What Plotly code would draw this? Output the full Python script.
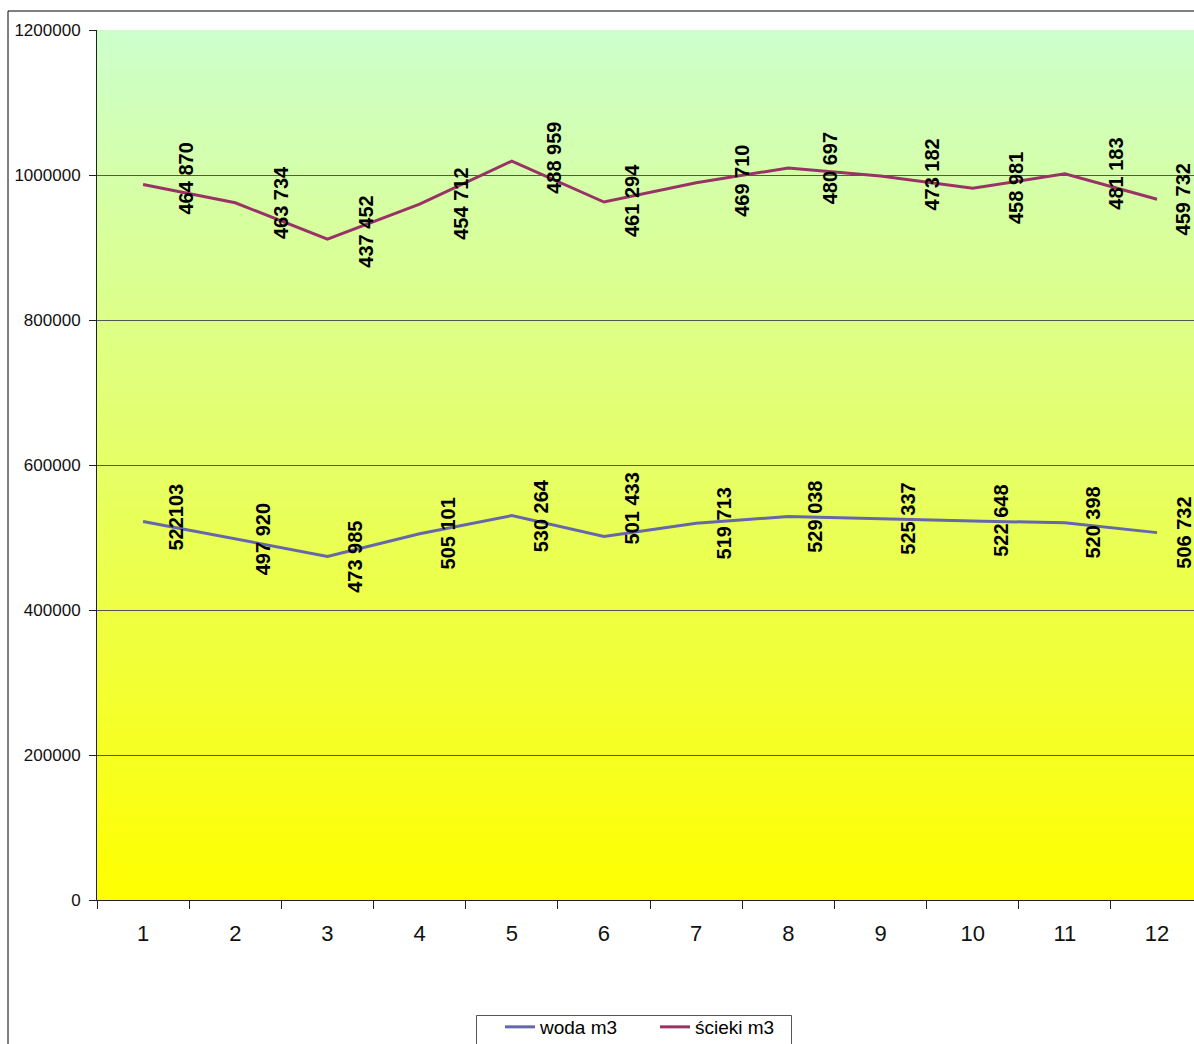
import base64
import struct
import zlib

import plotly.graph_objects as go

# ---------------- data ----------------
months = ["1", "2", "3", "4", "5", "6", "7", "8", "9", "10", "11", "12"]
woda = [522103, 497920, 473985, 505101, 530264, 501433,
        519713, 529038, 525337, 522648, 520398, 506732]
scieki = [464870, 463734, 437452, 454712, 488959, 461294,
          469710, 480697, 473182, 458981, 481183, 459732]
woda_labels = ["522103", "497 920", "473 985", "505 101", "530 264", "501 433",
               "519 713", "529 038", "525 337", "522 648", "520 398", "506 732"]
scieki_labels = ["464 870", "463 734", "437 452", "454 712", "488 959", "461 294",
                 "469 710", "480 697", "473 182", "458 981", "481 183", "459 732"]

# ---------------- label placement (pixel shifts, styling only) ----------------
woda_dx = [33, 28, 28, 28, 29, 28, 28, 27, 28, 28, 28, 27]
woda_dy = [4, 0, 0, 0, 0, 28, 0, 0, 0, 0, 0, 0]
scieki_dx = [43, 46, 39, 42, 42, 28, 45, 42, 52, 44, 51, 26]
scieki_dy = [6, 0, 8, 0, 3, 2, 2, 0, 1, 0, 0, 0]

WODA_COLOR = "#6666AA"
SCIEKI_COLOR = "#993366"
FONT = "Liberation Sans, Arial, sans-serif"


def gradient_png(top, bottom, n=256, w=2):
    rows = []
    for k in range(n):
        t = k / (n - 1)
        px = bytes(round(top[i] + (bottom[i] - top[i]) * t) for i in range(3))
        rows.append(b"\x00" + px * w)
    raw = b"".join(rows)

    def chunk(tag, data):
        return (struct.pack(">I", len(data)) + tag + data
                + struct.pack(">I", zlib.crc32(tag + data) & 0xFFFFFFFF))

    png = (b"\x89PNG\r\n\x1a\n"
           + chunk(b"IHDR", struct.pack(">IIBBBBB", w, n, 8, 2, 0, 0, 0))
           + chunk(b"IDAT", zlib.compress(raw))
           + chunk(b"IEND", b""))
    return "data:image/png;base64," + base64.b64encode(png).decode()


fig = go.Figure()
fig.add_trace(go.Scatter(
    x=months, y=woda, name="woda m3", mode="lines", stackgroup="s", fill="none",
    line=dict(color=WODA_COLOR, width=3),
))
fig.add_trace(go.Scatter(
    x=months, y=scieki, name="ścieki m3", mode="lines", stackgroup="s", fill="none",
    line=dict(color=SCIEKI_COLOR, width=3),
))

annotations = []
for i in range(len(months)):
    annotations.append(dict(
        x=i, y=woda[i], text=woda_labels[i], showarrow=False, textangle=-90,
        xanchor="center", yanchor="middle", xshift=woda_dx[i], yshift=woda_dy[i],
        font=dict(family=FONT, size=20, color="black", weight="bold"),
    ))
    annotations.append(dict(
        x=i, y=woda[i] + scieki[i], text=scieki_labels[i], showarrow=False, textangle=-90,
        xanchor="center", yanchor="middle", xshift=scieki_dx[i], yshift=scieki_dy[i],
        font=dict(family=FONT, size=20, color="black", weight="bold"),
    ))

W, H = 1194, 1044
ML, MR, MT, MB = 97, 0, 30, 144
pw, ph = W - ML - MR, H - MT - MB


def px_x(x):
    return (x - ML) / pw


def px_y(y):
    return (MT + ph - y) / ph


fig.update_layout(
    width=W, height=H,
    margin=dict(l=ML, r=MR, t=MT, b=MB, pad=0, autoexpand=False),
    paper_bgcolor="white",
    plot_bgcolor="rgba(0,0,0,0)",
    showlegend=True,
    legend=dict(
        orientation="h", x=px_x(500), xanchor="left",
        y=px_y(1008), yanchor="top",
        bgcolor="rgba(0,0,0,0)", borderwidth=0,
        font=dict(family=FONT, size=19, color="black"),
        entrywidth=110, entrywidthmode="pixels",
    ),
    images=[dict(
        source=gradient_png((204, 255, 204), (255, 255, 0)),
        xref="paper", yref="paper", x=0, y=1, sizex=1, sizey=1,
        sizing="stretch", layer="below", xanchor="left", yanchor="top",
    )],
    shapes=[
        dict(
            type="rect", xref="paper", yref="paper",
            x0=px_x(8), x1=1.05, y0=-0.3, y1=px_y(11),
            line=dict(color="black", width=1), fillcolor="rgba(0,0,0,0)", layer="below",
        ),
        dict(
            type="rect", xref="paper", yref="paper",
            x0=px_x(476.5), x1=px_x(791.5), y0=px_y(1060), y1=px_y(1015.5),
            line=dict(color="#555555", width=1), fillcolor="white", layer="below",
        ),
    ],
    annotations=annotations,
    xaxis=dict(
        type="category", categoryorder="array", categoryarray=months,
        range=[-0.5, -0.5 + pw / 92.18],
        showgrid=False, zeroline=False,
        showline=True, linecolor="#222222", linewidth=1,
        ticks="outside", tickson="boundaries", ticklen=8, tickcolor="#222222",
        tickfont=dict(family=FONT, size=22, color="#111111"),
        ticklabelstandoff=14,
    ),
    yaxis=dict(
        range=[0, 1200000], dtick=200000, tick0=0, tickformat="d",
        showgrid=True, gridcolor="#555555", gridwidth=1, zeroline=False,
        showline=True, linecolor="#222222", linewidth=1,
        ticks="outside", ticklen=7, tickcolor="#222222",
        tickfont=dict(family=FONT, size=17, color="#111111"),
        ticklabelstandoff=5,
    ),
)

fig.write_html(
    "out.html",
    config={"displayModeBar": False},
    post_script="document.body.style.margin='0';document.body.style.overflow='hidden';",
)
